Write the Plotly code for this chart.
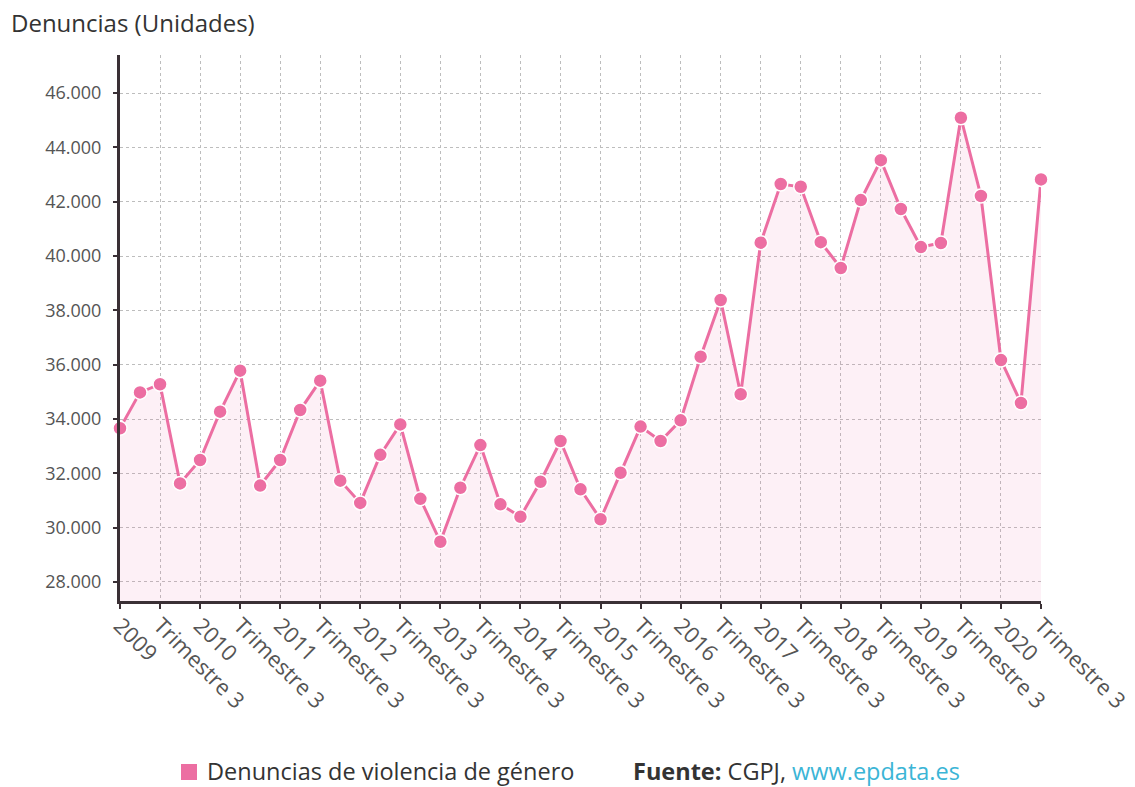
import plotly.graph_objects as go

years = list(range(2009, 2021))
quarters = [f"{y} T{q}" for y in years for q in range(1, 5)][:47]

denuncias = [33660, 34980, 35280, 31630, 32490, 34270, 35780, 31550, 32490, 34330,
             35410, 31730, 30910, 32680, 33800, 31060, 29480, 31470, 33040, 30860,
             30400, 31690, 33190, 31410, 30310, 32020, 33720, 33190, 33950, 36290,
             38380, 34910, 40490, 42650, 42550, 40510, 39560, 42060, 43530, 41730,
             40330, 40480, 45090, 42210, 36170, 34590, 42820]

tick_cats = quarters[::2]
tick_text = [str(y) if i % 2 == 0 else "Trimestre 3" for i, y in
             enumerate([y for y in years for _ in range(2)][:len(tick_cats)])]

y_ticks = [28000, 30000, 32000, 34000, 36000, 38000, 40000, 42000, 44000, 46000]

series_name = "Denuncias de violencia de género"
pink = "#EC6EA2"
font_family = "Open Sans, Noto Sans, sans-serif"

W, H = 1135, 787
L, R, T, B = 120, 94, 55, 186
PW, PH = W - L - R, H - T - B


def px(x):
    return (x - L) / PW


def py(y):
    return (H - B - y) / PH


fig = go.Figure()
fig.add_trace(go.Scatter(
    x=quarters, y=denuncias, mode="lines+markers", name=series_name,
    line=dict(color=pink, width=3),
    marker=dict(color=pink, size=14, line=dict(color="white", width=1.5)),
    fill="tozeroy", fillcolor="rgba(236,110,162,0.10)",
    cliponaxis=False, showlegend=False,
))

fig.update_layout(
    width=W, height=H,
    margin=dict(l=L, r=R, t=T, b=B, autoexpand=False),
    paper_bgcolor="white", plot_bgcolor="white",
    separators=",.",
    font=dict(family=font_family, color="#555555", size=18),
    xaxis=dict(
        type="category", range=[0, 46], automargin=False,
        tickmode="array", tickvals=tick_cats, ticktext=tick_text,
        tickangle=45, tickfont=dict(size=22, color="#555555"),
        ticklabelstandoff=-5,
        showgrid=True, gridcolor="#BDBDBD", gridwidth=1, griddash="dot",
        showline=True, linecolor="#3A3035", linewidth=3,
        ticks="outside", ticklen=5, tickcolor="#3A3035", tickwidth=2,
        zeroline=False,
    ),
    yaxis=dict(
        range=[27300, 47400], automargin=False,
        tickmode="array", tickvals=y_ticks, tickformat=",.0f",
        tickfont=dict(size=18, color="#555555"),
        ticklabelstandoff=8,
        showgrid=True, gridcolor="#BDBDBD", gridwidth=1, griddash="dot",
        showline=True, linecolor="#3A3035", linewidth=3,
        ticks="outside", ticklen=4, tickcolor="#3A3035", tickwidth=2,
        zeroline=False,
    ),
    shapes=[dict(type="rect", xref="paper", yref="paper",
                 x0=px(181), x1=px(197), y0=py(780), y1=py(764),
                 fillcolor=pink, line=dict(width=0))],
    annotations=[
        dict(text="Denuncias (Unidades)", xref="paper", yref="paper",
             x=px(9), y=py(23), xanchor="left", yanchor="middle",
             showarrow=False, font=dict(size=24, color="#333333")),
        dict(text=series_name, xref="paper", yref="paper",
             x=px(205), y=py(771), xanchor="left", yanchor="middle",
             showarrow=False, font=dict(size=23.5, color="#333333")),
        dict(text="<b>Fuente:</b> CGPJ, <span style='color:#3BB5D6'>www.epdata.es</span>",
             xref="paper", yref="paper",
             x=px(631), y=py(771), xanchor="left", yanchor="middle",
             showarrow=False, font=dict(size=23.5, color="#333333")),
    ],
)

fig.write_html("out.html", config={"displayModeBar": False},
               post_script="document.body.style.margin='0px';")
